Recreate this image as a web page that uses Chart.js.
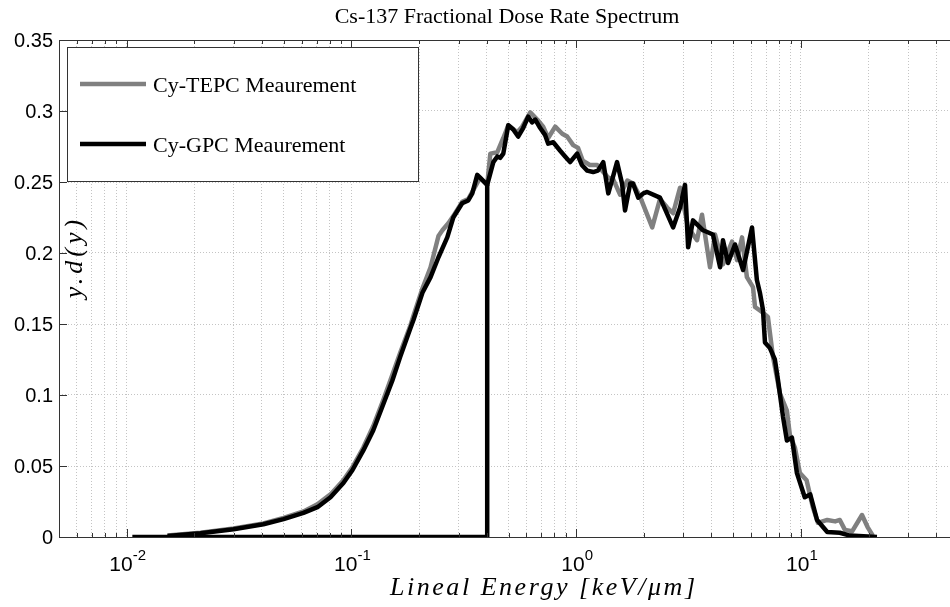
<!DOCTYPE html>
<html>
<head>
<meta charset="utf-8">
<script src="https://cdn.jsdelivr.net/npm/chart.js@4.4.1/dist/chart.umd.min.js"></script>
<style>
html, body { margin: 0; padding: 0; background: #fff; overflow: hidden; }
#wrap { width: 968px; height: 607px; position: relative; }
canvas { display: block; }
</style>
</head>
<body>
<div id="wrap"><canvas id="dose-chart" width="968" height="607"></canvas></div>
<script>
const chartTitle = "Cs-137 Fractional Dose Rate Spectrum";
const xTitle = "Lineal Energy [keV/\u03bcm]";
const yTitle = "y.d(y)";
const legendLabels = ["Cy-TEPC Meaurement", "Cy-GPC Meaurement"];

const yTicks = [0, 0.05, 0.1, 0.15, 0.2, 0.25, 0.3, 0.35];
const yTickLabels = ["0", "0.05", "0.1", "0.15", "0.2", "0.25", "0.3", "0.35"];
const xDecades = [0.01, 0.1, 1, 10];
const xDecadeExponents = ["-2", "-1", "0", "1"];

// Cy-TEPC (grey)
const tepcEnergy = [0.0152, 0.0213, 0.0299, 0.0406, 0.0499, 0.0612, 0.0706, 0.0807, 0.0921, 0.101,
    0.113, 0.125, 0.139, 0.152, 0.165, 0.183, 0.189, 0.207, 0.225, 0.244,
    0.254, 0.270, 0.284, 0.311, 0.331, 0.345, 0.374, 0.402, 0.415, 0.446,
    0.474, 0.499, 0.547, 0.575, 0.625, 0.671, 0.713, 0.751, 0.807, 0.867,
    0.912, 0.970, 1.02, 1.07, 1.15, 1.24, 1.32, 1.39, 1.46, 1.57,
    1.69, 1.79, 1.92, 2.18, 2.36, 2.54, 2.70, 2.90, 3.15, 3.45,
    3.63, 3.94, 4.15, 4.50, 4.94, 5.20, 5.47, 5.75, 6.12, 6.25,
    6.78, 7.13, 7.51, 8.07, 8.66, 8.93, 9.40, 9.90, 10.6, 11.3,
    11.9, 13.1, 14.2, 14.9, 15.7, 16.9, 18.7, 19.8, 20.9];
const tepcDose = [0.001, 0.003, 0.006, 0.0095, 0.0135, 0.018, 0.023, 0.030, 0.040, 0.049,
    0.063, 0.078, 0.097, 0.114, 0.130, 0.149, 0.156, 0.175, 0.190, 0.212,
    0.216, 0.221, 0.226, 0.236, 0.238, 0.243, 0.253, 0.248, 0.270, 0.271,
    0.281, 0.290, 0.285, 0.289, 0.299, 0.294, 0.289, 0.281, 0.289, 0.284,
    0.282, 0.276, 0.274, 0.265, 0.262, 0.262, 0.257, 0.253, 0.252, 0.241,
    0.251, 0.249, 0.240, 0.218, 0.238, 0.232, 0.228, 0.246, 0.218, 0.209,
    0.227, 0.190, 0.213, 0.192, 0.208, 0.195, 0.211, 0.183, 0.176, 0.162,
    0.158, 0.155, 0.127, 0.101, 0.089, 0.072, 0.063, 0.045, 0.040, 0.021,
    0.010, 0.012, 0.011, 0.012, 0.005, 0.004, 0.0155, 0.007, 0.001];

// Cy-GPC (black)
const gpcEnergy = [0.0152, 0.0213, 0.0299, 0.0406, 0.0499, 0.0612, 0.0706, 0.0807, 0.0921, 0.101,
    0.113, 0.125, 0.139, 0.152, 0.165, 0.183, 0.189, 0.207, 0.225, 0.244,
    0.267, 0.284, 0.311, 0.331, 0.345, 0.363, 0.402,
    0.428, 0.446, 0.459, 0.474, 0.499, 0.525, 0.552, 0.581, 0.612, 0.637,
    0.658, 0.692, 0.728, 0.751, 0.791, 0.849, 0.893, 0.940, 1.01, 1.06,
    1.12, 1.19, 1.25, 1.32, 1.39, 1.46, 1.52, 1.60, 1.65, 1.74,
    1.79, 1.89, 1.99, 2.07, 2.36, 2.70, 2.90, 3.05, 3.15, 3.31,
    3.67, 4.06, 4.37, 4.50, 4.74, 5.09, 5.53, 6.06, 6.37, 6.57,
    6.78, 6.92, 7.28, 7.66, 7.90, 8.32, 8.66, 9.12, 9.60, 10.4,
    11.0, 11.8, 13.1, 14.9, 16.5, 21.8];
const gpcDose = [0.0007, 0.0026, 0.0055, 0.009, 0.0126, 0.017, 0.021, 0.028, 0.038, 0.047,
    0.061, 0.075, 0.094, 0.110, 0.127, 0.147, 0.153, 0.172, 0.183, 0.197,
    0.211, 0.225, 0.235, 0.237, 0.242, 0.255, 0.248,
    0.264, 0.268, 0.267, 0.270, 0.290, 0.287, 0.282, 0.288, 0.296, 0.292,
    0.294, 0.288, 0.283, 0.277, 0.278, 0.272, 0.268, 0.264, 0.270, 0.262,
    0.258, 0.257, 0.258, 0.264, 0.242, 0.254, 0.264, 0.249, 0.230, 0.249,
    0.249, 0.239, 0.242, 0.243, 0.239, 0.218, 0.232, 0.248, 0.204, 0.223,
    0.216, 0.213, 0.190, 0.209, 0.193, 0.206, 0.188, 0.218, 0.181, 0.172,
    0.160, 0.137, 0.133, 0.125, 0.111, 0.085, 0.068, 0.070, 0.045, 0.028,
    0.030, 0.012, 0.0035, 0.003, 0.001, 0];

// GPC below its threshold: flat at zero, then the jump
const gpcCutEnergy = [0.0106, 0.402, 0.402];
const gpcCutDose = [0, 0, 0.248];

const toPoints = (xs, ys) => xs.map((x, i) => ({ x: x, y: ys[i] }));

// grid/tick positions for the log axis: 1..9 per decade
const xGrid = [];
for (const d of [0.001, 0.01, 0.1, 1, 10]) {
    for (let m = 1; m <= 9; m++) {
        const v = +(d * m).toPrecision(3);
        if (v >= 0.005 && v <= 50) xGrid.push({ value: v, major: m === 1 });
    }
}

const serif = '"Liberation Serif", "Times New Roman", serif';
const sans = '"Liberation Sans", Arial, sans-serif';

const decorations = {
    id: 'decorations',
    afterDraw(chart) {
        const ctx = chart.ctx;
        const area = chart.chartArea;
        const xs = chart.scales.x;
        const ys = chart.scales.y;
        ctx.save();

        // inward tick marks (right side falls outside the window anyway)
        ctx.strokeStyle = '#333';
        ctx.lineWidth = 1;
        ctx.beginPath();
        xGrid.forEach(t => {
            const px = Math.round(xs.getPixelForValue(t.value)) + 0.5;
            const len = t.major ? 8 : 4;
            ctx.moveTo(px, area.bottom); ctx.lineTo(px, area.bottom - len);
            ctx.moveTo(px, area.top); ctx.lineTo(px, area.top + len);
        });
        yTicks.forEach(v => {
            const py = Math.round(ys.getPixelForValue(v)) + 0.5;
            ctx.moveTo(area.left, py); ctx.lineTo(area.left + 8, py);
        });
        // frame: left, bottom, top
        const l = Math.round(area.left) + 0.5, t = Math.round(area.top) + 0.5, b = Math.round(area.bottom) + 0.5;
        ctx.moveTo(l, t); ctx.lineTo(area.right, t);
        ctx.moveTo(l, t); ctx.lineTo(l, b);
        ctx.moveTo(l, b); ctx.lineTo(area.right, b);
        ctx.stroke();

        // y tick labels
        ctx.fillStyle = '#000';
        ctx.font = '20px ' + sans;
        ctx.textAlign = 'right';
        ctx.textBaseline = 'middle';
        yTicks.forEach((v, i) => {
            ctx.fillText(yTickLabels[i], area.left - 6, ys.getPixelForValue(v) + 1);
        });

        // x tick labels 10^n
        ctx.textAlign = 'left';
        ctx.textBaseline = 'alphabetic';
        xDecades.forEach((v, i) => {
            const px = xs.getPixelForValue(v);
            ctx.font = '21px ' + sans;
            const wBase = ctx.measureText('10').width;
            ctx.font = '15px ' + sans;
            const wExp = ctx.measureText(xDecadeExponents[i]).width;
            const x0 = px - (wBase + wExp) / 2 + 1;
            ctx.font = '21px ' + sans;
            ctx.fillText('10', x0, area.bottom + 34);
            ctx.font = '15px ' + sans;
            ctx.fillText(xDecadeExponents[i], x0 + wBase, area.bottom + 23);
        });

        // title
        ctx.font = '22px ' + serif;
        ctx.textAlign = 'center';
        ctx.fillText(chartTitle, 507, 23);

        // x axis title (stretched like the LaTeX math italics)
        ctx.font = 'italic 26px ' + serif;
        ctx.textAlign = 'left';
        const natural = ctx.measureText(xTitle).width;
        const spacing = (305 - natural) / (xTitle.length - 1);
        if ('letterSpacing' in ctx) {
            ctx.letterSpacing = spacing + 'px';
            ctx.fillText(xTitle, 390, 595);
            ctx.letterSpacing = '0px';
        } else {
            ctx.fillText(xTitle, 390, 595);
        }

        // y axis title, sits inside the axes
        ctx.save();
        ctx.translate(82, 257);
        ctx.rotate(-Math.PI / 2);
        ctx.font = 'italic 26px ' + serif;
        ctx.textAlign = 'center';
        if ('letterSpacing' in ctx) ctx.letterSpacing = '4px';
        ctx.fillText(yTitle, 0, 0);
        ctx.restore();

        // legend box
        ctx.fillStyle = '#fff';
        ctx.fillRect(67, 47, 351, 134);
        ctx.strokeStyle = '#333';
        ctx.lineWidth = 1;
        ctx.strokeRect(67.5, 47.5, 351, 134);
        const legendColors = ['#808080', '#000'];
        const legendRows = [84, 144];
        legendRows.forEach((y, i) => {
            ctx.strokeStyle = legendColors[i];
            ctx.lineWidth = 4.5;
            ctx.beginPath();
            ctx.moveTo(80, y); ctx.lineTo(146, y);
            ctx.stroke();
            ctx.fillStyle = '#000';
            ctx.font = '22px ' + serif;
            ctx.textAlign = 'left';
            ctx.fillText(legendLabels[i], 153, y + 8);
        });

        ctx.restore();
    }
};

const gridStyle = { color: '#c4c4c4', lineWidth: 1, drawTicks: false };

const chart = new Chart(document.getElementById('dose-chart'), {
    type: 'scatter',
    data: {
        datasets: [
            {
                label: legendLabels[0],
                data: toPoints(tepcEnergy, tepcDose),
                showLine: true,
                borderColor: '#808080',
                borderWidth: 4.5,
                pointRadius: 0,
                borderJoinStyle: 'round',
                order: 3
            },
            {
                label: legendLabels[1],
                data: toPoints(gpcEnergy, gpcDose),
                showLine: true,
                borderColor: '#000',
                borderWidth: 4.5,
                pointRadius: 0,
                borderJoinStyle: 'round',
                order: 1
            },
            {
                label: 'cut',
                data: toPoints(gpcCutEnergy, gpcCutDose),
                showLine: true,
                borderColor: '#000',
                borderWidth: 4.5,
                pointRadius: 0,
                order: 2
            }
        ]
    },
    options: {
        responsive: false,
        animation: false,
        devicePixelRatio: 1,
        layout: { padding: { left: 59, top: 40, right: 10, bottom: 70 } },
        scales: {
            x: {
                type: 'logarithmic',
                min: 0.005,
                max: 50,
                afterBuildTicks: (scale) => { scale.ticks = xGrid.map(t => ({ value: t.value })); },
                ticks: { display: false },
                grid: gridStyle,
                border: { display: false, dash: [1, 2] }
            },
            y: {
                min: 0,
                max: 0.35,
                afterBuildTicks: (scale) => { scale.ticks = yTicks.map(v => ({ value: v })); },
                ticks: { display: false },
                grid: gridStyle,
                border: { display: false, dash: [1, 2] }
            }
        },
        plugins: {
            legend: { display: false },
            tooltip: { enabled: false }
        }
    },
    plugins: [decorations]
});
</script>
</body>
</html>
